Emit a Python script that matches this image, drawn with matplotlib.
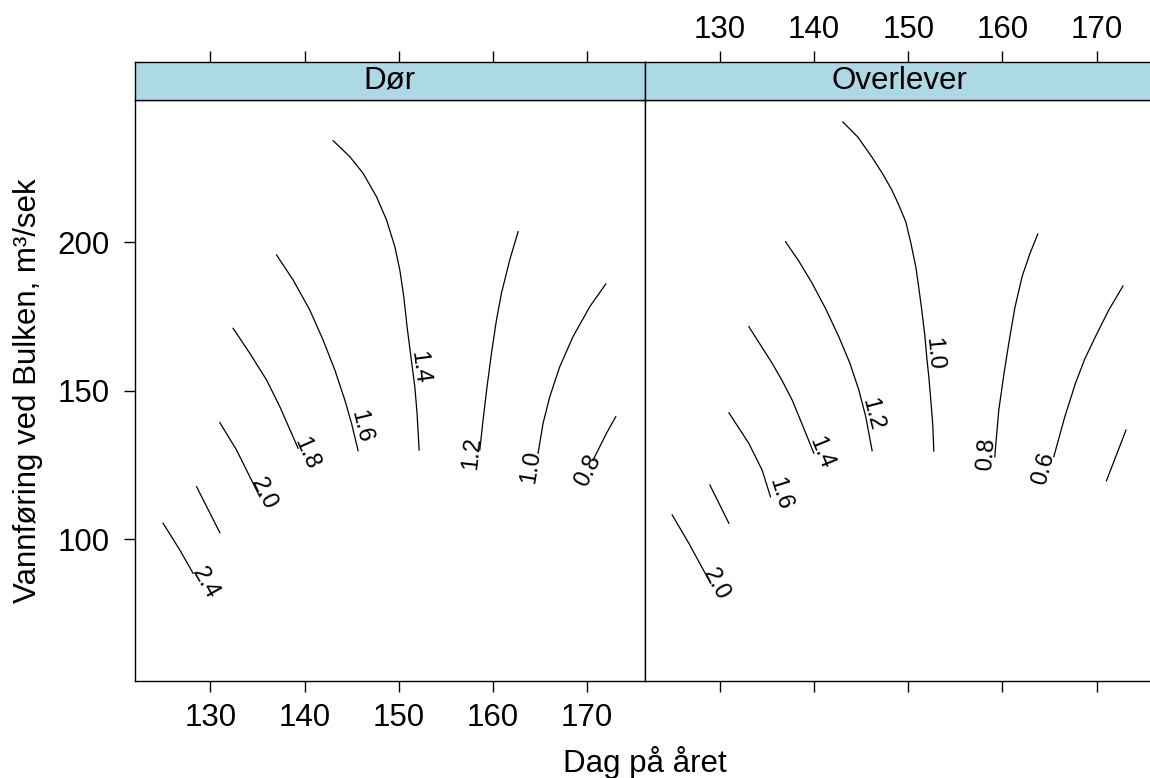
import numpy as np
import matplotlib
matplotlib.use('Agg')
import matplotlib.pyplot as plt

plt.rcParams['font.family'] = ['Liberation Sans', 'DejaVu Sans']

panels = ['Dør', 'Overlever']
xticks = [130, 140, 150, 160, 170]
yticks = [100, 150, 200]
xlim = (122.0, 176.1)
ylim = (52.3, 247.9)

# contour lines (x = dag, y = vannføring)
dor_levels = ['1.4', '1.6', '1.8', '2.0', None, '2.4', '1.2', '1.0', '0.8']
dor_x = [
    [143.04, 144.81, 146.22, 147.64, 148.71, 149.59, 150.12, 150.54,
     150.89, 151.25, 151.71, 151.95, 152.17],
    [137.03, 138.79, 140.56, 141.97, 143.22, 144.28, 144.99, 145.69],
    [132.42, 134.19, 135.97, 137.38, 138.62, 139.32],
    [131.01, 132.78, 134.19, 135.25],
    [128.54, 131.01],
    [124.99, 126.76, 128.17],
    [162.68, 161.79, 160.91, 160.38, 159.85, 159.38, 158.96, 158.61],
    [171.99, 170.29, 168.51, 167.10, 166.04, 165.33, 164.80],
    [173.05, 172.06, 171.00, 170.64],
]
dor_y = [
    [234.21, 228.82, 223.23, 215.35, 207.51, 198.52, 190.67, 181.68,
     171.58, 162.63, 151.38, 142.42, 130.07],
    [195.72, 187.31, 177.21, 167.1, 157.0, 146.9, 139.06, 129.83],
    [171.04, 162.63, 153.64, 144.65, 135.69, 130.64],
    [139.26, 130.07, 121.08, 114.34],
    [117.71, 102.22],
    [105.39, 96.4, 88.55],
    [203.57, 194.04, 182.83, 173.84, 162.63, 151.38, 140.17, 130.07],
    [185.96, 178.32, 168.22, 158.11, 148.01, 139.06, 128.96],
    [141.28, 135.69, 128.96, 126.7],
]
dor_lab_x = [152.24, 145.96, 140.21, 135.7, None, 129.5, 157.81, 164.0, 170.07]
dor_lab_y = [157.7, 137.9, 129.0, 115.2, None, 85.2, 129.0, 124.4, 123.1]

ovl_levels = ['1.0', '1.2', '1.4', '1.6', None, '2.0', '0.8', '0.6', None]
ovl_x = [
    [143.06, 144.65, 146.14, 147.30, 148.26, 149.00, 149.75, 150.28,
     150.81, 151.13, 151.44, 151.76, 151.97, 152.19, 152.40, 152.61, 152.72],
    [136.97, 138.38, 139.80, 141.25, 142.63, 143.80, 144.76, 145.50, 146.17],
    [133.08, 134.25, 135.55, 136.58, 137.68, 138.81, 139.98],
    [130.96, 133.08, 134.49, 135.38],
    [128.94, 130.96],
    [124.94, 126.71, 129.02],
    [163.76, 162.91, 162.09, 161.32, 160.68, 160.15, 159.62, 159.19],
    [172.81, 171.30, 169.88, 168.75, 167.76, 166.62, 165.46],
    [173.13, 171.05],
]
ovl_y = [
    [240.51, 235.45, 228.72, 222.99, 217.61, 212.56, 206.84, 199.76,
     191.68, 184.61, 177.21, 168.79, 161.38, 154.65, 146.90, 138.49, 129.73],
    [200.2, 193.7, 186.2, 177.54, 168.22, 159.36, 150.27, 141.18, 129.83],
    [171.6, 165.76, 159.3, 153.6, 146.9, 138.15, 129.0],
    [142.6, 132.3, 123.3, 114.3],
    [118.3, 105.4],
    [108.2, 98.65, 85.2],
    [202.79, 196.06, 188.42, 177.88, 165.99, 155.32, 143.54, 127.81],
    [185.29, 177.21, 168.22, 160.71, 152.53, 141.18, 127.81],
    [136.8, 119.7],
]
ovl_lab_x = [152.72, 146.18, 140.69, 136.35, None, 129.54, 158.27, 164.37, None]
ovl_lab_y = [162.3, 142.1, 129.2, 115.2, None, 84.9, 128.7, 123.9, None]


def label_angle(ax, xs, ys, lx, ly):
    """Screen angle of the contour segment nearest the label."""
    pts = ax.transData.transform(np.column_stack([xs, ys]))
    lab = ax.transData.transform((lx, ly))
    mids = (pts[1:] + pts[:-1]) / 2
    i = int(np.argmin(np.hypot(*(mids - lab).T)))
    dx, dy = pts[i + 1] - pts[i]
    ang = np.degrees(np.arctan2(dy, dx))
    if ang > 90:
        ang -= 180
    elif ang <= -90:
        ang += 180
    return ang


W, H = 1150, 778
fig = plt.figure(figsize=(W / 100, H / 100), dpi=100)

FS = 22.5
TL = 8.0
panel_w = 509.5 / W
panel_h = 581 / H
panel_b = 97 / H
strip_b = (H - 100) / H
strip_h = 38.3 / H
lefts = [135 / W, 644.5 / W]

data = [
    (dor_levels, dor_x, dor_y, dor_lab_x, dor_lab_y),
    (ovl_levels, ovl_x, ovl_y, ovl_lab_x, ovl_lab_y),
]

for k, (name, left) in enumerate(zip(panels, lefts)):
    ax = fig.add_axes([left, panel_b, panel_w, panel_h])
    ax.set_xlim(xlim)
    ax.set_ylim(ylim)
    for sp in ax.spines.values():
        sp.set_linewidth(1.0)
    ax.set_xticks(xticks)
    ax.tick_params(axis='x', direction='out', length=TL, width=1.0,
                   labelsize=FS, pad=7.5, labelbottom=(k == 0))
    if k == 0:
        ax.set_yticks(yticks)
        ax.tick_params(axis='y', direction='out', length=TL, width=1.0,
                       labelsize=FS, pad=10)
    else:
        ax.set_yticks([])

    levels, xs_all, ys_all, lxs, lys = data[k]
    for lev, xs, ys, lx, ly in zip(levels, xs_all, ys_all, lxs, lys):
        ax.plot(xs, ys, color='black', lw=0.9, solid_joinstyle='round')
        if lev is not None:
            ang = label_angle(ax, xs, ys, lx, ly)
            ax.text(lx, ly, lev, fontsize=17, rotation=ang,
                    ha='center', va='center', rotation_mode='anchor')

    # strip with panel name; top axis ticks sit above it
    st = fig.add_axes([left, strip_b, panel_w, strip_h])
    st.set_facecolor('#ADD8E6')
    st.set_xlim(xlim)
    st.set_ylim(0, 1)
    st.set_yticks([])
    st.set_xticks(xticks)
    st.tick_params(axis='x', direction='out', length=TL, width=1.0,
                   labelsize=FS, pad=3.8, bottom=False, labelbottom=False,
                   top=True, labeltop=(k == 1))
    for sp in st.spines.values():
        sp.set_linewidth(1.0)
    st.text(0.5, 0.5, name, transform=st.transAxes, fontsize=FS,
            ha='center', va='center')

fig.text(28 / W, 1 - 390.5 / H, 'Vannføring ved Bulken, m³/sek',
         rotation=90, fontsize=FS, ha='center', va='center')
fig.text(644.5 / W, 6 / H, 'Dag på året', fontsize=FS,
         ha='center', va='baseline')

fig.savefig('out.png', dpi=100)
